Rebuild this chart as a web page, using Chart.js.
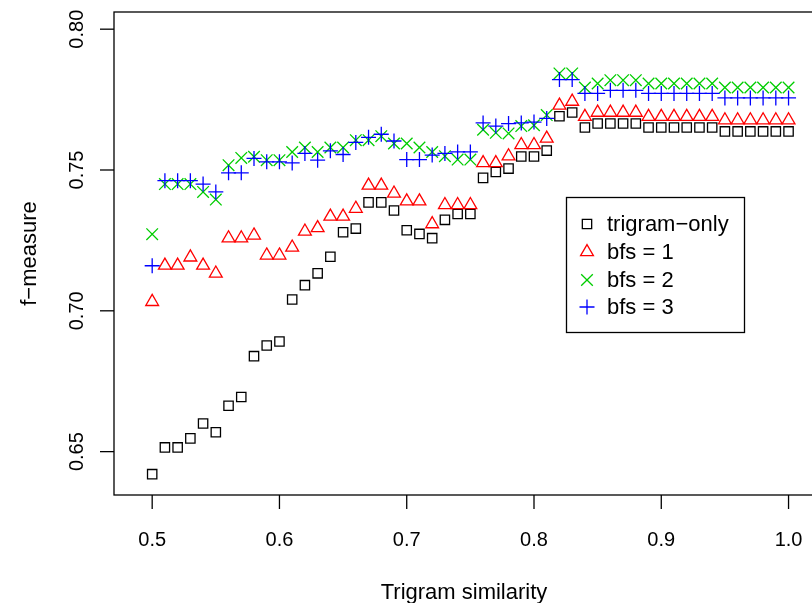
<!DOCTYPE html>
<html>
<head>
<meta charset="utf-8">
<script src="https://cdn.jsdelivr.net/npm/chart.js@4/dist/chart.umd.min.js"></script>
<style>
  html, body { margin: 0; padding: 0; background: #fff; overflow: hidden; }
  #wrap { width: 840px; height: 603px; }
</style>
</head>
<body>
<div id="wrap"><canvas id="plot" width="840" height="603"></canvas></div>
<script>
// x values: trigram similarity threshold 0.50 .. 1.00
var similarity = [
  0.50, 0.51, 0.52, 0.53, 0.54, 0.55, 0.56, 0.57, 0.58, 0.59,
  0.60, 0.61, 0.62, 0.63, 0.64, 0.65, 0.66, 0.67, 0.68, 0.69,
  0.70, 0.71, 0.72, 0.73, 0.74, 0.75, 0.76, 0.77, 0.78, 0.79,
  0.80, 0.81, 0.82, 0.83, 0.84, 0.85, 0.86, 0.87, 0.88, 0.89,
  0.90, 0.91, 0.92, 0.93, 0.94, 0.95, 0.96, 0.97, 0.98, 0.99, 1.00
];

var trigramOnly = [
  0.6420, 0.6515, 0.6515, 0.6547, 0.6600, 0.6569, 0.6663, 0.6694, 0.6839, 0.6877,
  0.6891, 0.7040, 0.7091, 0.7133, 0.7192, 0.7279, 0.7292, 0.7385, 0.7385, 0.7356,
  0.7286, 0.7273, 0.7258, 0.7323, 0.7344, 0.7344, 0.7472, 0.7493, 0.7505, 0.7548,
  0.7548, 0.7569, 0.7691, 0.7704, 0.7651, 0.7665, 0.7665, 0.7665, 0.7665, 0.7651,
  0.7651, 0.7651, 0.7651, 0.7651, 0.7651, 0.7637, 0.7637, 0.7637, 0.7637, 0.7637, 0.7637
];

var bfs1 = [
  0.7032, 0.7161, 0.7161, 0.7190, 0.7161, 0.7133, 0.7258, 0.7258, 0.7268, 0.7197,
  0.7197, 0.7225, 0.7282, 0.7294, 0.7335, 0.7335, 0.7363, 0.7445, 0.7445, 0.7417,
  0.7389, 0.7389, 0.7308, 0.7376, 0.7376, 0.7376, 0.7525, 0.7525, 0.7549, 0.7589,
  0.7589, 0.7612, 0.7729, 0.7743, 0.7689, 0.7704, 0.7704, 0.7704, 0.7704, 0.7689,
  0.7689, 0.7689, 0.7689, 0.7689, 0.7689, 0.7677, 0.7677, 0.7677, 0.7677, 0.7677, 0.7677
];

var bfs2 = [
  0.7272, 0.7450, 0.7450, 0.7450, 0.7422, 0.7395, 0.7517, 0.7543, 0.7547, 0.7535,
  0.7535, 0.7564, 0.7580, 0.7564, 0.7580, 0.7580, 0.7606, 0.7606, 0.7620, 0.7594,
  0.7594, 0.7580, 0.7564, 0.7549, 0.7537, 0.7537, 0.7643, 0.7632, 0.7630, 0.7656,
  0.7659, 0.7695, 0.7843, 0.7843, 0.7793, 0.7807, 0.7819, 0.7819, 0.7819, 0.7807,
  0.7807, 0.7807, 0.7807, 0.7807, 0.7807, 0.7793, 0.7793, 0.7793, 0.7793, 0.7793, 0.7793
];

var bfs3 = [
  0.7160, 0.7462, 0.7462, 0.7462, 0.7450, 0.7422, 0.7490, 0.7490, 0.7541, 0.7529,
  0.7529, 0.7525, 0.7559, 0.7535, 0.7568, 0.7555, 0.7598, 0.7616, 0.7627, 0.7603,
  0.7537, 0.7537, 0.7553, 0.7559, 0.7564, 0.7564, 0.7667, 0.7656, 0.7665, 0.7667,
  0.7670, 0.7683, 0.7821, 0.7821, 0.7772, 0.7772, 0.7783, 0.7783, 0.7783, 0.7772,
  0.7772, 0.7772, 0.7772, 0.7772, 0.7772, 0.7756, 0.7756, 0.7756, 0.7756, 0.7756, 0.7756
];

var seriesNames = ['trigram\u2212only', 'bfs = 1', 'bfs = 2', 'bfs = 3'];
var xTicks = [0.5, 0.6, 0.7, 0.8, 0.9, 1.0];
var xTickLabels = ['0.5', '0.6', '0.7', '0.8', '0.9', '1.0'];
var yTicks = [0.65, 0.70, 0.75, 0.80];
var yTickLabels = ['0.65', '0.70', '0.75', '0.80'];

var TICK_FONT = '20px "Liberation Sans", Arial, sans-serif';
var FONT = '22px "Liberation Sans", Arial, sans-serif';

function pts(ys) {
  return similarity.map(function(x, i) { return { x: x, y: ys[i] }; });
}

var styles = [
  { color: '#000000', pointStyle: 'rect', radius: 6.6 },
  { color: '#FF0000', pointStyle: 'triangle', radius: 7.4 },
  { color: '#00CD00', pointStyle: 'crossRot', radius: 8.2 },
  { color: '#0000FF', pointStyle: 'cross', radius: 7.5 }
];

var seriesValues = [trigramOnly, bfs1, bfs2, bfs3];
var datasets = seriesValues.map(function(vals, i) {
  return {
    label: seriesNames[i],
    data: pts(vals),
    pointStyle: styles[i].pointStyle,
    pointRadius: styles[i].radius,
    pointBorderColor: styles[i].color,
    pointBackgroundColor: 'rgba(0,0,0,0)',
    pointBorderWidth: 1.3,
    showLine: false,
    order: 4 - i   // later series drawn on top, like R's points()
  };
});

// R-style axes, box and legend drawn with the chart's own scales
var rAxes = {
  id: 'rAxes',
  afterDraw: function(chart) {
    var ctx = chart.ctx, a = chart.chartArea;
    var xs = chart.scales.x, ys = chart.scales.y;
    ctx.save();
    ctx.strokeStyle = '#000';
    ctx.lineWidth = 1.3;
    ctx.strokeRect(a.left, a.top, a.right - a.left, a.bottom - a.top);

    ctx.fillStyle = '#000';
    ctx.textBaseline = 'alphabetic';
    ctx.textAlign = 'center';

    // x axis
    ctx.font = TICK_FONT;
    xTicks.forEach(function(v, i) {
      var px = xs.getPixelForValue(v);
      ctx.beginPath();
      ctx.moveTo(px, a.bottom);
      ctx.lineTo(px, a.bottom + 14);
      ctx.stroke();
      ctx.fillText(xTickLabels[i], px, 546);
    });

    // y axis
    yTicks.forEach(function(v, i) {
      var py = ys.getPixelForValue(v);
      ctx.beginPath();
      ctx.moveTo(a.left, py);
      ctx.lineTo(a.left - 14, py);
      ctx.stroke();
      ctx.save();
      ctx.translate(83, py);
      ctx.rotate(-Math.PI / 2);
      ctx.fillText(yTickLabels[i], 0, 0);
      ctx.restore();
    });

    // axis titles
    ctx.font = FONT;
    ctx.fillText('Trigram similarity', (a.left + a.right) / 2, 599);
    ctx.save();
    ctx.translate(36, (a.top + a.bottom) / 2);
    ctx.rotate(-Math.PI / 2);
    ctx.fillText('f\u2212measure', 0, 0);
    ctx.restore();

    // legend
    ctx.strokeRect(566.5, 197.5, 178, 135);
    ctx.textAlign = 'left';
    ctx.textBaseline = 'middle';
    var rows = [224, 252, 280, 307];
    styles.forEach(function(s, i) {
      ctx.save();
      ctx.strokeStyle = s.color;
      ctx.fillStyle = 'rgba(0,0,0,0)';
      ctx.lineWidth = 1.3;
      Chart.helpers.drawPoint(ctx, { pointStyle: s.pointStyle, radius: s.radius, borderWidth: 1.3, rotation: 0 }, 587, rows[i]);
      ctx.restore();
      ctx.fillText(seriesNames[i], 607, rows[i] + 1);
    });
    ctx.restore();
  }
};

new Chart(document.getElementById('plot'), {
  type: 'scatter',
  data: { datasets: datasets },
  options: {
    responsive: false,
    animation: false,
    events: [],
    layout: { padding: { left: 114, top: 12, right: 26, bottom: 108 } },
    scales: {
      x: { type: 'linear', min: 0.47, max: 1.02, display: false },
      y: { type: 'linear', min: 0.6346, max: 0.8061, display: false }
    },
    plugins: { legend: { display: false }, tooltip: { enabled: false } }
  },
  plugins: [rAxes]
});
</script>
</body>
</html>
